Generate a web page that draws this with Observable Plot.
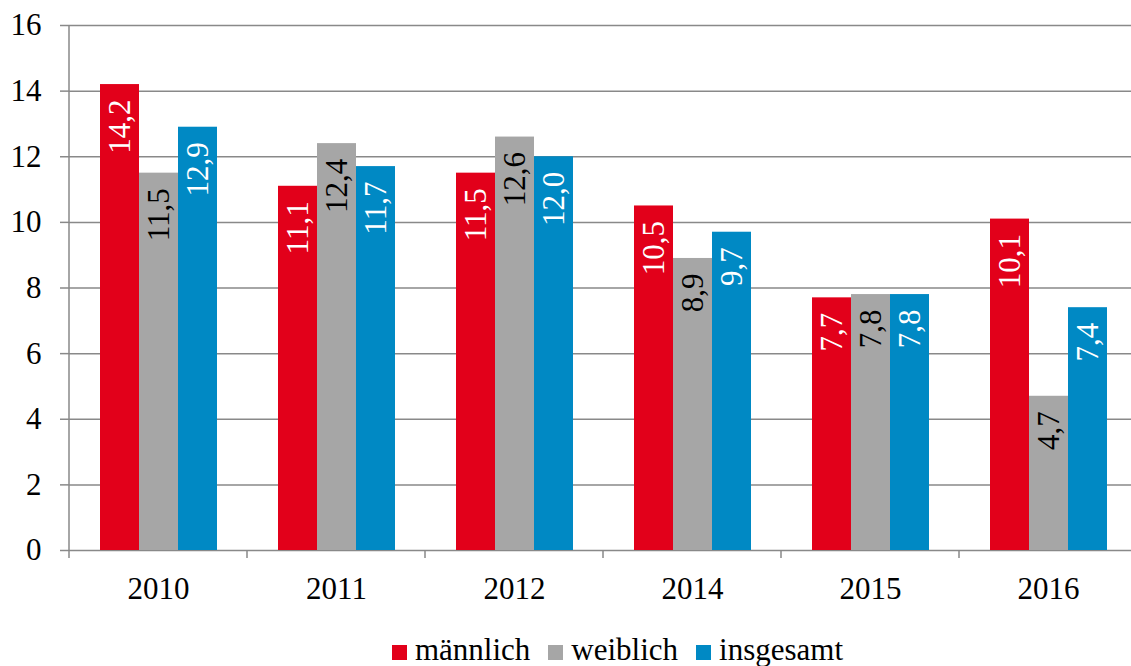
<!DOCTYPE html>
<html><head><meta charset="utf-8">
<script src="https://cdn.jsdelivr.net/npm/d3@7"></script>
<script src="https://cdn.jsdelivr.net/npm/@observablehq/plot@0.6"></script>
</head><body style="margin:0;padding:0;background:#fff;overflow:hidden;font-family:'Liberation Serif',serif">
<div id="chart" style="width:1131px;font-family:'Liberation Serif',serif"></div>
<div id="legend" style="display:flex;align-items:center;height:36px;line-height:36px;font-size:31px;padding-left:392px;color:#000;font-family:'Liberation Serif',serif"></div>
<script>
const years = ["2010","2011","2012","2014","2015","2016"];
const series = ["männlich","weiblich","insgesamt"];
const maennlich = [14.2,11.1,11.5,10.5,7.7,10.1];
const weiblich  = [11.5,12.4,12.6,8.9,7.8,4.7];
const insgesamt = [12.9,11.7,12.0,9.7,7.8,7.4];
const yTicks = [0,2,4,6,8,10,12,14,16];
const colors = ["#e2001a","#a6a6a6","#0089c4"];
const labelColors = ["white","black","white"];
const seriesValues = [maennlich, weiblich, insgesamt];

const data = years.flatMap((year, i) => series.map((s, j) => ({
  year, series: s, value: seriesValues[j][i], labelColor: labelColors[j]
})));
const fmt = v => v.toFixed(1).replace(".", ",");
const font = "Liberation Serif";
const gridColor = "#898989";

const plot = Plot.plot({
  width: 1131, height: 632,
  marginLeft: 67, marginRight: -7, marginTop: 25, marginBottom: 82,
  style: {fontFamily: font, fontSize: "31px", background: "#fff"},
  fx: {domain: years, padding: 0, label: null},
  x: {domain: series, paddingInner: 0, paddingOuter: 0.75, axis: null},
  y: {domain: [0, 16], label: null},
  color: {domain: series, range: colors},
  marks: [
    Plot.gridY(yTicks, {stroke: gridColor, strokeOpacity: 1, strokeWidth: 1.5}),
    Plot.axisY(yTicks, {tickSize: 9, tickPadding: 19, stroke: gridColor, strokeWidth: 1.5, fill: "#000", fontSize: 31, label: null, tickFormat: d => String(d)}),
    Plot.axisFx({anchor: "bottom", tickSize: 0, tickPadding: 26, fill: "#000", fontSize: 31, label: null}),
    Plot.barY(data, {fx: "year", x: "series", y: "value", fill: "series"}),
    Plot.text(data, {fx: "year", x: "series", y: "value", text: d => fmt(d.value),
      rotate: -90, textAnchor: "end", lineAnchor: "middle", dy: 15, fill: "labelColor", fontSize: 31})
  ]
});
document.getElementById("chart").appendChild(plot);

// axis line and category boundary ticks from the library's scales
const fxs = plot.scale("fx"), ys = plot.scale("y");
const g = d3.select(plot).append("g").attr("stroke", gridColor).attr("stroke-width", 1.5);
const y0 = ys.apply(0), y16 = ys.apply(16);
years.forEach((yr, i) => {
  const x0 = fxs.apply(yr);
  g.append("line").attr("x1", x0).attr("x2", x0)
    .attr("y1", i === 0 ? y16 : y0).attr("y2", y0 + 8);
});

// legend
const legend = document.getElementById("legend");
series.forEach((s, j) => {
  const it = document.createElement("span");
  it.style.cssText = "display:flex;align-items:center;margin-right:18px";
  const sw = document.createElement("span");
  sw.style.cssText = "display:inline-block;width:15px;height:15px;margin-right:8px;position:relative;top:2px;background:" + colors[j];
  const tx = document.createElement("span");
  tx.textContent = s;
  it.appendChild(sw); it.appendChild(tx);
  legend.appendChild(it);
});
</script></body></html>
